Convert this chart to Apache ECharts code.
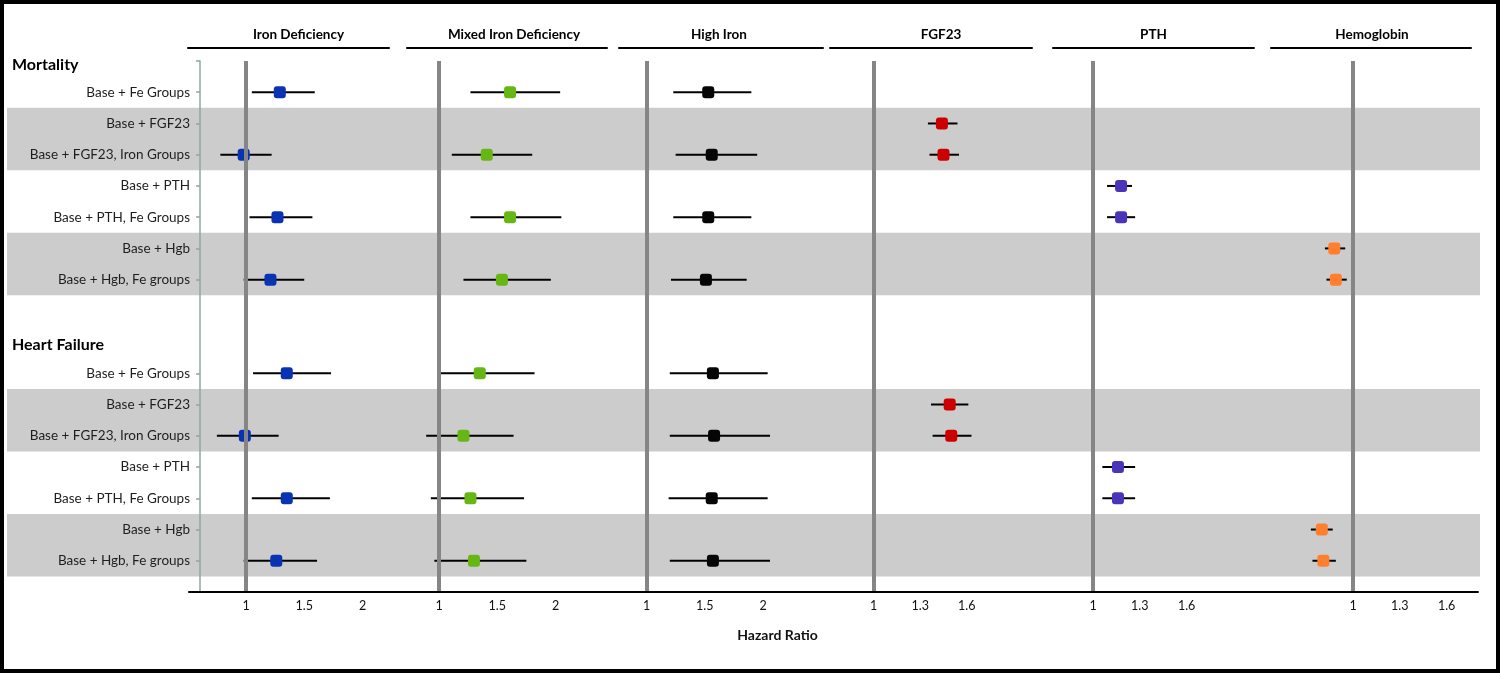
<!DOCTYPE html>
<html>
<head>
<meta charset="utf-8">
<script src="https://cdn.jsdelivr.net/npm/echarts@6/dist/echarts.min.js"></script>
<style>
  html, body { margin: 0; padding: 0; background: #fff; }
  #wrap { position: relative; width: 1500px; height: 673px; }
  #chart { width: 1500px; height: 673px; }
  #frame { position: absolute; left: 0; top: 0; width: 1500px; height: 673px; box-sizing: border-box; border: 4px solid #000; pointer-events: none; }
</style>
</head>
<body>
<div id="wrap">
  <div id="chart"></div>
  <div id="frame"></div>
</div>
<script>
// row labels, repeated for Mortality (rows 1-7) and Heart Failure (rows 10-16)
const rowLabels = ['Base + Fe Groups', 'Base + FGF23', 'Base + FGF23, Iron Groups', 'Base + PTH',
  'Base + PTH, Fe Groups', 'Base + Hgb', 'Base + Hgb, Fe groups'];
const sectionLabels = ['Mortality', 'Heart Failure'];
const sectionRows = [0.13, 9.1];
const labelRows = [1, 2, 3, 4, 5, 6, 7, 10, 11, 12, 13, 14, 15, 16];
const shadedRows = [[1.5, 3.5], [5.5, 7.5], [10.5, 12.5], [14.5, 16.5]];

const panelTitles = ['Iron Deficiency', 'Mixed Iron Deficiency', 'High Iron', 'FGF23', 'PTH', 'Hemoglobin'];
const tickValues = [[1, 1.5, 2], [1, 1.5, 2], [1, 1.5, 2], [1, 1.3, 1.6], [1, 1.3, 1.6], [1, 1.3, 1.6]];
const markerColors = ['#0a33b4', '#66b614', '#050505', '#cc0000', '#4a34b8', '#ff7f2e'];

// [row, lower CI, hazard ratio, upper CI]
const ironDeficiency = [
  [1, 1.05, 1.29, 1.59], [3, 0.78, 0.98, 1.22], [5, 1.03, 1.27, 1.57], [7, 0.98, 1.21, 1.50],
  [10, 1.06, 1.35, 1.73], [12, 0.75, 0.99, 1.28], [14, 1.05, 1.35, 1.72], [16, 0.98, 1.26, 1.61]
];
const mixedIronDeficiency = [
  [1, 1.27, 1.61, 2.04], [3, 1.11, 1.41, 1.80], [5, 1.27, 1.61, 2.05], [7, 1.21, 1.54, 1.96],
  [10, 1.01, 1.35, 1.82], [12, 0.89, 1.21, 1.64], [14, 0.93, 1.27, 1.73], [16, 0.96, 1.30, 1.75]
];
const highIron = [
  [1, 1.23, 1.53, 1.90], [3, 1.25, 1.56, 1.95], [5, 1.23, 1.53, 1.90], [7, 1.21, 1.51, 1.86],
  [10, 1.20, 1.57, 2.04], [12, 1.20, 1.58, 2.06], [14, 1.19, 1.56, 2.04], [16, 1.20, 1.57, 2.06]
];
const fgf23 = [
  [2, 1.35, 1.44, 1.54], [3, 1.36, 1.45, 1.55], [11, 1.37, 1.49, 1.61], [12, 1.38, 1.50, 1.63]
];
const pth = [
  [4, 1.09, 1.18, 1.25], [5, 1.09, 1.18, 1.27], [13, 1.06, 1.16, 1.27], [14, 1.06, 1.16, 1.27]
];
const hemoglobin = [
  [6, 0.82, 0.88, 0.95], [7, 0.83, 0.89, 0.96], [15, 0.73, 0.80, 0.87], [16, 0.74, 0.81, 0.89]
];
const panelData = [ironDeficiency, mixedIronDeficiency, highIron, fgf23, pth, hemoglobin];

// panel layout: left / right edge of header line, pixel of HR=1, px per unit, title nudge
const panelBox = [
  { left: 188, right: 389, ref: 246, scale: 116.5, nudge: 10 },
  { left: 407, right: 607, ref: 439, scale: 116.5, nudge: 7 },
  { left: 619, right: 823, ref: 646.5, scale: 116.5, nudge: -2 },
  { left: 830, right: 1032, ref: 873.5, scale: 155.5, nudge: 10 },
  { left: 1053, right: 1254, ref: 1093, scale: 156, nudge: 0 },
  { left: 1271, right: 1471, ref: 1353, scale: 156, nudge: 1 }
];

const W = 1500, H = 673;
const plotTop = 61, plotBottom = 81;
const font = 'Lato, "Open Sans", sans-serif';

const grid = [
  { left: 7, right: 20, top: plotTop, bottom: plotBottom },   // shading bands
  { left: 189, right: 22, top: plotTop, bottom: plotBottom }, // bottom line + section titles
  { left: 200, right: 22, top: plotTop, bottom: plotBottom }  // row axis
];
const xAxis = [
  { gridIndex: 0, type: 'value', min: 0, max: 1, show: false },
  {
    gridIndex: 1, type: 'value', min: 0, max: 1, z: 5, position: 'bottom',
    axisLine: { show: true, onZero: false, lineStyle: { color: '#000', width: 2 } },
    axisTick: { show: false }, axisLabel: { show: false }, splitLine: { show: false },
    name: 'Hazard Ratio', nameLocation: 'middle', nameGap: 36,
    nameTextStyle: { fontFamily: font, fontWeight: 'bold', fontSize: 14, color: '#111', padding: [0, 112, 0, 0] }
  },
  { gridIndex: 2, type: 'value', min: 0, max: 1, show: false }
];
const yAxis = [
  { gridIndex: 0, type: 'value', inverse: true, min: 0, max: 17, show: false },
  {
    gridIndex: 1, type: 'value', inverse: true, min: 0, max: 17,
    axisLine: { show: false }, axisTick: { show: false }, splitLine: { show: false },
    axisLabel: {
      customValues: sectionRows, align: 'left', margin: 177,
      fontFamily: font, fontWeight: 'bold', fontSize: 16, color: '#000',
      formatter: v => sectionLabels[v < 5 ? 0 : 1]
    }
  },
  {
    gridIndex: 2, type: 'value', inverse: true, min: 0, max: 17, z: 5,
    axisLine: { show: true, lineStyle: { color: '#8fa7a4', width: 1.5 } },
    axisTick: { show: true, length: 4, customValues: [0].concat(labelRows), lineStyle: { color: '#8fa7a4', width: 1.5 } },
    splitLine: { show: false },
    axisLabel: {
      customValues: labelRows, margin: 10, fontFamily: font, fontSize: 13.5, color: '#1e1e1e',
      formatter: v => rowLabels[v >= 10 ? v - 10 : v - 1]
    }
  }
];

const series = [{
  type: 'line', xAxisIndex: 0, yAxisIndex: 0, data: [], silent: true, z: 0,
  markArea: {
    silent: true,
    itemStyle: { color: '#cccccc' },
    data: shadedRows.map(r => [{ yAxis: r[0] }, { yAxis: r[1] }])
  }
}];

function ciRenderer(color) {
  return function (params, api) {
    const row = api.value(0);
    const lo = api.coord([api.value(1), row]);
    const pt = api.coord([api.value(2), row]);
    const hi = api.coord([api.value(3), row]);
    return {
      type: 'group',
      children: [
        { type: 'line', shape: { x1: lo[0], y1: lo[1], x2: hi[0], y2: hi[1] }, style: { stroke: '#000', lineWidth: 2 } },
        { type: 'rect', shape: { x: pt[0] - 6, y: pt[1] - 6, width: 12, height: 12, r: 3 }, style: { fill: color } }
      ]
    };
  };
}

panelBox.forEach((b, i) => {
  const gi = grid.length;
  grid.push({ left: b.left, right: W - b.right, top: plotTop, bottom: plotBottom });
  const min = 1 - (b.ref - b.left) / b.scale;
  const max = 1 + (b.right - b.ref) / b.scale;
  const xi = xAxis.length;
  xAxis.push({
    gridIndex: gi, type: 'value', min: min, max: max,
    axisLine: { show: false, onZero: false }, axisTick: { show: false }, splitLine: { show: false },
    axisLabel: { customValues: tickValues[i], margin: 7, fontFamily: font, fontSize: 12.5, color: '#111' }
  });
  xAxis.push({
    gridIndex: gi, type: 'value', position: 'top', offset: 13, min: min, max: max,
    axisLine: { show: true, onZero: false, lineStyle: { color: '#000', width: 2 } },
    axisTick: { show: false }, axisLabel: { show: false }, splitLine: { show: false },
    name: panelTitles[i], nameLocation: 'middle', nameGap: 6,
    nameTextStyle: {
      fontFamily: font, fontWeight: 'bold', fontSize: 13.5, color: '#000',
      padding: b.nudge >= 0 ? [0, 0, 0, 2 * b.nudge] : [0, -2 * b.nudge, 0, 0]
    }
  });
  const yi = yAxis.length;
  yAxis.push({ gridIndex: gi, type: 'value', inverse: true, min: 0, max: 17, show: false });

  series.push({
    type: 'line', xAxisIndex: xi, yAxisIndex: yi, data: [], silent: true, z: 1,
    markLine: {
      silent: true, symbol: ['none', 'none'], label: { show: false },
      lineStyle: { color: '#858585', width: 4, type: 'solid' },
      data: [{ xAxis: 1 }]
    }
  });
  series.push({
    type: 'custom', xAxisIndex: xi, yAxisIndex: yi, z: 3,
    data: panelData[i],
    encode: { x: [1, 2, 3], y: 0 },
    renderItem: ciRenderer(markerColors[i])
  });
});

const chart = echarts.init(document.getElementById('chart'));
chart.setOption({
  animation: false,
  backgroundColor: '#fff',
  grid: grid,
  xAxis: xAxis,
  yAxis: yAxis,
  series: series
});
</script>
</body>
</html>
